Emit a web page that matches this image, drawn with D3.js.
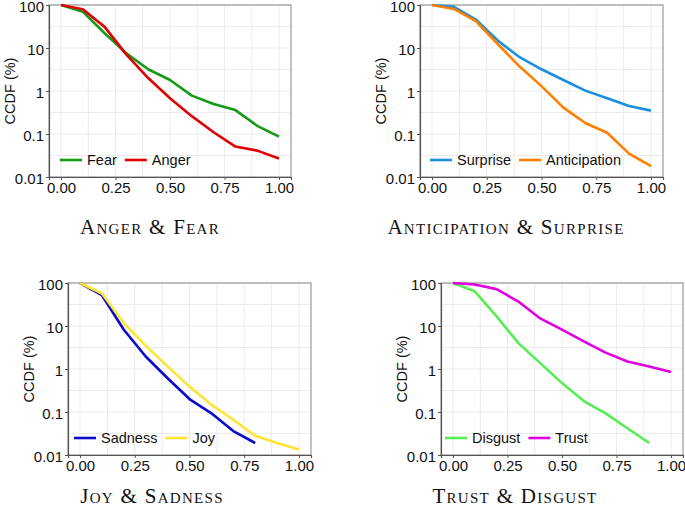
<!DOCTYPE html>
<html>
<head>
<meta charset="utf-8">
<script src="https://cdn.jsdelivr.net/npm/d3@7"></script>
<style>
  body { margin: 0; background: #fff; }
  text { font-family: "Liberation Sans", Arial, sans-serif; }
</style>
</head>
<body>
<script>
// chart data
var xs = [0, 0.1, 0.2, 0.3, 0.4, 0.5, 0.6, 0.7, 0.8, 0.9, 1.0];

var fear         = [100, 70, 22, 7.5, 3.2, 1.8, 0.78, 0.5, 0.36, 0.155, 0.087];
var anger        = [100, 80, 31, 7.0, 2.0, 0.68, 0.26, 0.11, 0.051, 0.041, 0.027];
var surprise     = [100, 91, 46, 15, 6.1, 3.2, 1.8, 1.02, 0.68, 0.45, 0.35];
var anticipation = [100, 81, 42, 12.4, 3.7, 1.3, 0.41, 0.18, 0.107, 0.035, 0.018];
var sadness      = [100, 52, 8.2, 1.95, 0.61, 0.2, 0.093, 0.036, 0.019];
var joy          = [100, 57, 11.7, 3.5, 1.15, 0.39, 0.148, 0.066, 0.028, 0.019, 0.0135];
var disgust      = [100, 64, 16.7, 4.0, 1.37, 0.47, 0.18, 0.093, 0.042, 0.019];
var trust        = [100, 92, 72, 37, 15, 8.2, 4.4, 2.4, 1.5, 1.14, 0.85];

var xTicks = [0, 0.25, 0.5, 0.75, 1];
var xTickLabels = ["0.00", "0.25", "0.50", "0.75", "1.00"];
var yTicks = [0.01, 0.1, 1, 10, 100];
var yTickLabels = ["0.01", "0.1", "1", "10", "100"];
var titles = ["Anger & Fear", "Anticipation & Surprise", "Joy & Sadness", "Trust & Disgust"];

// layout of the four panels
var panels = [
  { box: [49, 5, 291, 177], title: titles[0], tx: 150, ty: 234, lx: 60,
    series: [{ name: "Fear", vals: fear, color: "#159a15" }, { name: "Anger", vals: anger, color: "#e00000" }] },
  { box: [420, 5, 663, 177], title: titles[1], tx: 506, ty: 234, lx: 430,
    series: [{ name: "Surprise", vals: surprise, color: "#1b8fe0" }, { name: "Anticipation", vals: anticipation, color: "#ff7f00" }] },
  { box: [68, 283, 311, 455], title: titles[2], tx: 152, ty: 503, lx: 74,
    series: [{ name: "Sadness", vals: sadness, color: "#0a0acc" }, { name: "Joy", vals: joy, color: "#ffe433" }] },
  { box: [441, 283, 683, 455], title: titles[3], tx: 515, ty: 503, lx: 445,
    series: [{ name: "Disgust", vals: disgust, color: "#55ef55" }, { name: "Trust", vals: trust, color: "#e000e0" }] }
];

var svg = d3.select("body").append("svg")
  .attr("width", 685)
  .attr("height", 512);

panels.forEach(function(p) {
  var left = p.box[0], top = p.box[1], right = p.box[2], bottom = p.box[3];
  var x = d3.scaleLinear().domain([-0.055, 1.055]).range([left, right]);
  var y = d3.scaleLog().domain([0.01, 100]).range([bottom, top]);
  var g = svg.append("g");

  // grid: major + minor
  var xGrid = d3.range(0, 9).map(function(i) { return i * 0.125; });
  var yGrid = [];
  yTicks.forEach(function(t, i) {
    yGrid.push(t);
    if (i < yTicks.length - 1) yGrid.push(t * Math.sqrt(10));
  });
  g.selectAll("line.gx").data(xGrid).enter().append("line")
    .attr("x1", function(d) { return x(d); }).attr("x2", function(d) { return x(d); })
    .attr("y1", top).attr("y2", bottom)
    .attr("stroke", "#ebebeb").attr("stroke-width", 1);
  g.selectAll("line.gy").data(yGrid).enter().append("line")
    .attr("y1", function(d) { return y(d); }).attr("y2", function(d) { return y(d); })
    .attr("x1", left).attr("x2", right)
    .attr("stroke", "#ebebeb").attr("stroke-width", 1);

  // border
  g.append("rect")
    .attr("x", left).attr("y", top)
    .attr("width", right - left).attr("height", bottom - top)
    .attr("fill", "none").attr("stroke", "#999").attr("stroke-width", 1.2);

  // axes
  var xAxis = d3.axisBottom(x).tickValues(xTicks).tickSize(3).tickPadding(2)
    .tickFormat(function(d, i) { return xTickLabels[i]; });
  var yAxis = d3.axisLeft(y).tickValues(yTicks).tickSize(3).tickPadding(2)
    .tickFormat(function(d, i) { return yTickLabels[i]; });

  var gx = g.append("g").attr("transform", "translate(0," + bottom + ")").call(xAxis);
  var gy = g.append("g").attr("transform", "translate(" + left + ",0)").call(yAxis);
  [gx, gy].forEach(function(a) {
    a.select(".domain").attr("stroke", "#555").attr("stroke-width", 1.2);
    a.selectAll(".tick line").attr("stroke", "#555");
    a.selectAll(".tick text").attr("fill", "#111")
      .style("font-size", "15px").style("font-family", "'Liberation Sans', Arial, sans-serif");
  });
  gy.selectAll(".tick text").attr("dy", "0.45em");

  g.append("text")
    .attr("transform", "translate(" + (left - 34) + "," + ((top + bottom) / 2) + ") rotate(-90)")
    .attr("text-anchor", "middle")
    .attr("fill", "#111")
    .style("font-size", "14.5px")
    .text("CCDF (%)");

  // lines
  var line = d3.line()
    .x(function(d, i) { return x(xs[i]); })
    .y(function(d) { return y(d); });
  p.series.forEach(function(s) {
    g.append("path")
      .datum(s.vals)
      .attr("d", line)
      .attr("fill", "none")
      .attr("stroke", s.color)
      .attr("stroke-width", 2.6)
      .attr("stroke-linejoin", "round");
  });

  // legend
  var lgY = bottom - 17;
  var cx = p.lx;
  p.series.forEach(function(s) {
    g.append("line")
      .attr("x1", cx).attr("x2", cx + 22)
      .attr("y1", lgY).attr("y2", lgY)
      .attr("stroke", s.color).attr("stroke-width", 2.6);
    var t = g.append("text")
      .attr("x", cx + 27).attr("y", lgY + 5)
      .attr("fill", "#111")
      .style("font-size", "14.5px")
      .text(s.name);
    cx = cx + 27 + t.node().getComputedTextLength() + 8;
  });

  // title
  svg.append("text")
    .attr("x", p.tx).attr("y", p.ty)
    .attr("text-anchor", "middle")
    .style("font-family", "'Liberation Serif', 'DejaVu Serif', serif")
    .style("font-variant", "small-caps")
    .style("font-size", "21px")
    .style("letter-spacing", "1.3px")
    .attr("fill", "#111")
    .text(p.title);
});
</script>
</body>
</html>
